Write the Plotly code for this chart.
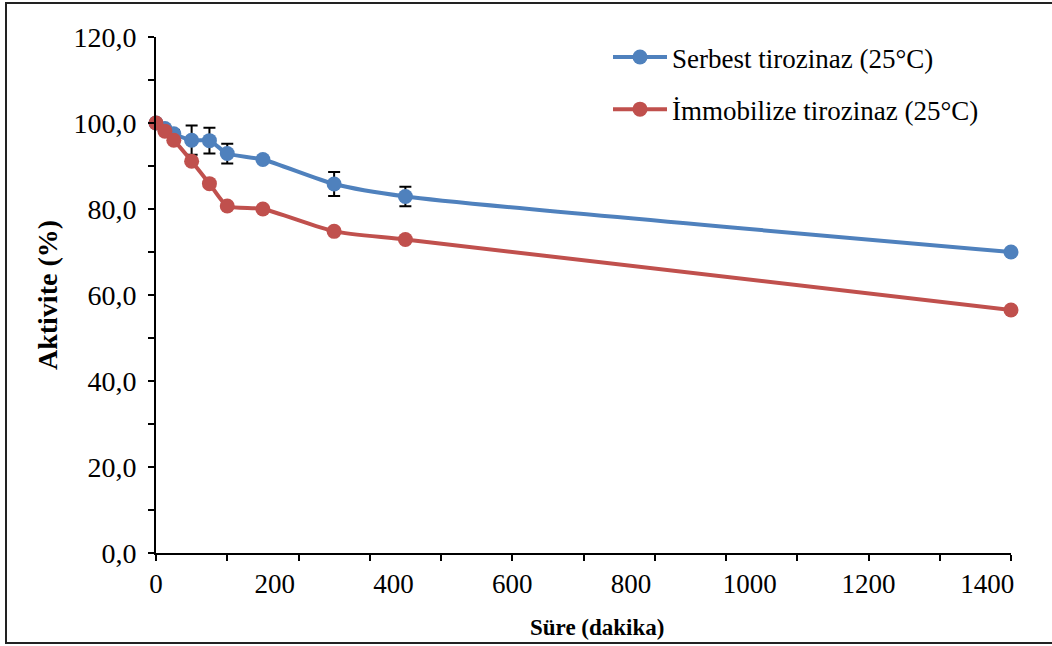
import plotly.graph_objects as go

# Time points (minutes)
sure = [0, 15, 30, 60, 90, 120, 180, 300, 420, 1440]

# Relative activity (%)
serbest = [100.0, 98.7, 97.5, 96.0, 95.9, 92.9, 91.5, 85.8, 82.9, 70.0]
serbest_hata = [0.0, 0.5, 0.9, 3.4, 3.0, 2.3, 0.0, 2.8, 2.25, 0.0]
immobilize = [100.0, 98.1, 96.0, 91.1, 85.9, 80.7, 80.0, 74.8, 72.9, 56.5]

# Axis ticks
x_label_vals = [0, 200, 400, 600, 800, 1000, 1200, 1400]
x_tick_vals = list(range(0, 1441, 120))
y_label_vals = [0, 20, 40, 60, 80, 100, 120]

BLUE = "#4F81BD"
RED = "#C0504D"
FONT = "Liberation Serif, Times New Roman, serif"

W, H = 1052, 646
L, R, T, B = 156, 41, 37, 93
pw, ph = W - L - R, H - T - B


def px_x(px):
    return (px - L) / pw


def px_y(py):
    return (H - B - py) / ph


fig = go.Figure()

fig.add_trace(go.Scatter(
    x=sure, y=serbest, name="Serbest tirozinaz (25°C)",
    mode="lines+markers", legendgroup="a",
    line=dict(color=BLUE, width=4, shape="spline", smoothing=0.6),
    marker=dict(color=BLUE, size=15),
    error_y=dict(type="data", array=serbest_hata, visible=True,
                 color="black", thickness=2, width=6),
    cliponaxis=False,
))
# second series is plotted against the labelled time axis (same range)
fig.add_trace(go.Scatter(
    x=sure, y=immobilize, name="İmmobilize tirozinaz (25°C)",
    mode="lines+markers", legendgroup="b", xaxis="x2", yaxis="y",
    line=dict(color=RED, width=4, shape="spline", smoothing=0.6),
    marker=dict(color=RED, size=15),
    cliponaxis=False,
))

fig.update_layout(
    width=W, height=H,
    margin=dict(l=L, r=R, t=T, b=B),
    paper_bgcolor="white", plot_bgcolor="white",
    separators=",.",
    font=dict(family=FONT, color="black", size=27),
    showlegend=True,
    legend=dict(
        x=px_x(608), y=px_y(33), xanchor="left", yanchor="top",
        font=dict(family=FONT, size=27, color="black"),
        bgcolor="rgba(0,0,0,0)", tracegroupgap=14, itemwidth=54,
    ),
    xaxis=dict(
        range=[0, 1440], showgrid=False, zeroline=False,
        showline=True, linecolor="black", linewidth=2,
        tickmode="array", tickvals=x_tick_vals, showticklabels=False,
        ticks="outside", ticklen=6, tickwidth=2, tickcolor="black",
        title=None,
    ),
    xaxis2=dict(
        range=[0, 1440], overlaying="x", anchor="y", side="bottom",
        showgrid=False, zeroline=False, showline=False,
        tickmode="array", tickvals=x_label_vals, tickformat="d",
        ticks="", ticklen=0, ticklabelstandoff=12,
        tickfont=dict(family=FONT, size=27, color="black"),
        title=None,
    ),
    yaxis=dict(
        range=[0, 120], showgrid=False, zeroline=False,
        showline=True, linecolor="black", linewidth=2,
        tickmode="array", tickvals=y_label_vals, tickformat=".1f",
        ticks="outside", ticklen=6, tickwidth=2, tickcolor="black",
        ticklabelstandoff=6,
        minor=dict(ticks="outside", dtick=10, tick0=0, ticklen=6,
                   tickwidth=2, tickcolor="black"),
        tickfont=dict(family=FONT, size=28, color="black"),
        title=dict(text="<b>Aktivite (%)</b>", standoff=8,
                   font=dict(family=FONT, size=28, color="black")),
    ),
    annotations=[dict(
        text="<b>Süre (dakika)</b>", xref="paper", yref="paper",
        x=px_x(597), y=px_y(627), xanchor="center", yanchor="middle",
        showarrow=False, font=dict(family=FONT, size=23, color="black"),
    )],
    shapes=[dict(
        type="rect", xref="paper", yref="paper", layer="above",
        x0=px_x(6), x1=px_x(1060), y0=px_y(643), y1=px_y(3),
        line=dict(color="#222222", width=2), fillcolor="rgba(0,0,0,0)",
    )],
)

fig.write_html("out.html")
